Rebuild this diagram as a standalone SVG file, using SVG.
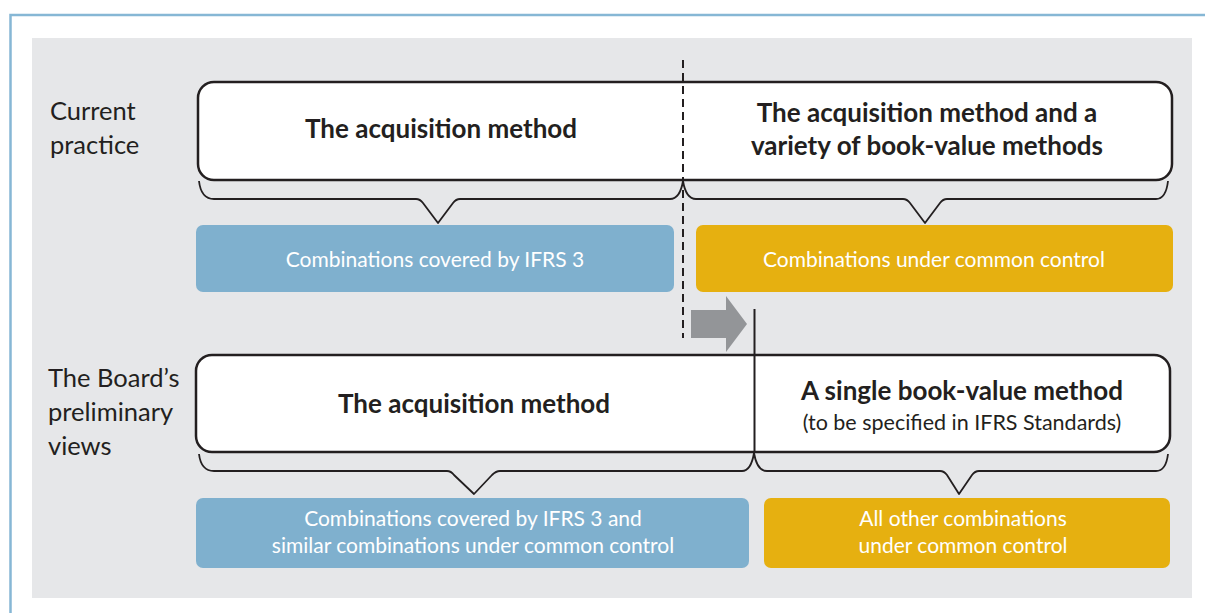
<svg xmlns="http://www.w3.org/2000/svg" width="1205" height="613" viewBox="0 0 1205 613">
<style>
.lbl{font-family:Lato,"Open Sans","Liberation Sans",sans-serif;font-size:25.5px;fill:#231f20}
.hd{font-family:Lato,"Open Sans","Liberation Sans",sans-serif;font-size:26px;font-weight:bold;fill:#231f20;text-anchor:middle}
.sub{font-family:Lato,"Open Sans","Liberation Sans",sans-serif;font-size:21.5px;fill:#231f20;text-anchor:middle}
.wt{font-family:Lato,"Open Sans","Liberation Sans",sans-serif;font-size:21px;fill:#ffffff;text-anchor:middle}
.box{fill:#ffffff;stroke:#231f20;stroke-width:2.5}
.blue{fill:#7fb0ce}
.yel{fill:#e6b010}
.brace{fill:none;stroke:#231f20;stroke-width:1.8;stroke-linejoin:round}
</style>
<rect width="1205" height="613" fill="#ffffff"/>
<path d="M10.5,613 V15 H1205" fill="none" stroke="#86b7d5" stroke-width="2.5"/>
<rect x="32" y="38" width="1160" height="560" fill="#e6e7e9"/>

<g id="label-current">
<text class="lbl" x="50" y="120">Current</text>
<text class="lbl" x="50" y="154">practice</text>
</g>
<g id="label-board">
<text class="lbl" x="48" y="387">The Board’s</text>
<text class="lbl" x="48" y="421">preliminary</text>
<text class="lbl" x="48" y="455">views</text>
</g>

<g id="current-methods">
<rect class="box" x="198" y="82" width="974" height="98" rx="16"/>
<text class="hd" x="441" y="138">The acquisition method</text>
<text class="hd" x="927" y="122">The acquisition method and a</text>
<text class="hd" x="927" y="155">variety of book-value methods</text>
</g>

<g id="current-ifrs3">
<rect class="blue" x="196" y="225" width="478" height="67" rx="7"/>
<text class="wt" x="435" y="267">Combinations covered by IFRS 3</text>
</g>
<g id="current-ucc">
<rect class="yel" x="696" y="225" width="477" height="67" rx="7"/>
<text class="wt" x="934" y="267">Combinations under common control</text>
</g>

<g id="board-methods">
<rect class="box" x="196" y="355" width="974" height="97" rx="16"/>
<text class="hd" x="474" y="413">The acquisition method</text>
<text class="hd" x="962" y="400">A single book-value method</text>
<text class="sub" x="962" y="430">(to be specified in IFRS Standards)</text>
</g>

<g id="board-ifrs3">
<rect class="blue" x="196" y="498" width="553" height="70" rx="7"/>
<text class="wt" x="473" y="526">Combinations covered by IFRS 3 and</text>
<text class="wt" x="473" y="553">similar combinations under common control</text>
</g>
<g id="board-ucc">
<rect class="yel" x="764" y="498" width="406" height="70" rx="7"/>
<text class="wt" x="963" y="526">All other combinations</text>
<text class="wt" x="963" y="553">under common control</text>
</g>

<g id="connectors">
<path class="brace" d="M199,181 Q201,199 214,199 L416,199 Q420,199 423,203 L438,223 L453,203 Q456,199 460,199 L670,199 Q680,199 683,181"/>
<path class="brace" d="M683,181 Q686,199 696,199 L903,199 Q907,199 910,203 L925,223 L940,203 Q943,199 947,199 L1156,199 Q1166,199 1168,181"/>
<path class="brace" d="M199,454 Q201,471 214,471 L447,471 Q451,471 454,475 L474,494 L492,475 Q496,471 500,471 L742,471 Q751,471 754,453"/>
<path class="brace" d="M754,453 Q757,471 767,471 L940,471 Q944,471 947,475 L959,494 L972,475 Q975,471 979,471 L1156,471 Q1166,471 1168,454"/>
<line x1="683" y1="60" x2="683" y2="338" stroke="#231f20" stroke-width="2" stroke-dasharray="8,5"/>
<line x1="754.5" y1="309" x2="754.5" y2="453" stroke="#231f20" stroke-width="2"/>
<path d="M691,310 H726 V296 L747,324 L726,352 V338 H691 Z" fill="#939598"/>
</g>
</svg>
